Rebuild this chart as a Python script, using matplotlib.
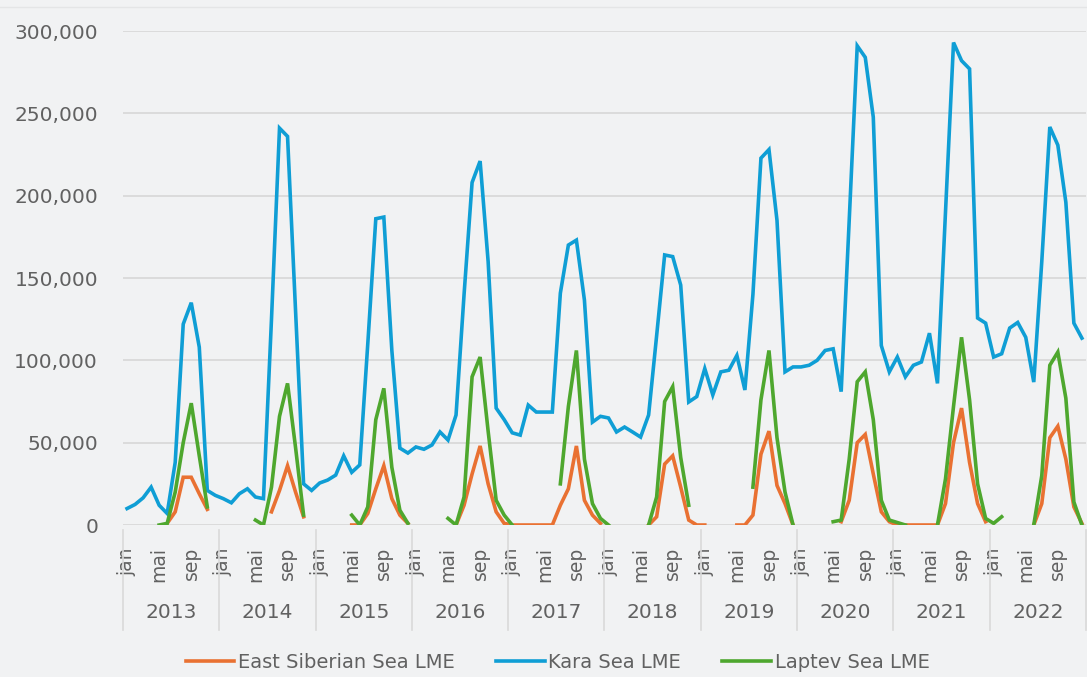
import numpy as np
import matplotlib.pyplot as plt
from matplotlib.lines import Line2D
from matplotlib.transforms import blended_transform_factory

nan = np.nan

# monthly values per LME, one row per year (jan..dec)
years = [2013, 2014, 2015, 2016, 2017, 2018, 2019, 2020, 2021, 2022]
month_ticks = [0, 4, 8]
month_names = ['jan', 'mai', 'sep']

east_siberian = [
    [nan, nan, nan, nan, nan, 1000, 8000, 29000, 29000, 19000, 9500, nan],
    [nan, nan, nan, nan, nan, nan, 8000, 21000, 36000, 20000, 5000, nan],
    [nan, nan, nan, nan, 0, 0, 7000, 22000, 36000, 16000, 6000, 1000],
    [nan, nan, nan, nan, nan, 0, 12000, 31000, 48000, 25000, 8000, 1000],
    [0, 0, 0, 0, 0, 0, 12000, 22000, 48000, 15000, 6000, 1000],
    [nan, nan, nan, nan, nan, 0, 5000, 37000, 42000, 23000, 3000, 0],
    [0, nan, nan, nan, 0, 0, 6000, 43000, 57000, 24000, 13000, 0],
    [nan, nan, nan, nan, nan, 2000, 15000, 50000, 55000, 31000, 8000, 2000],
    [0, 0, 0, 0, 0, 0, 13000, 50000, 71000, 38000, 13000, 2000],
    [nan, nan, nan, nan, nan, 0, 13000, 53000, 60000, 40000, 11000, 1000],
]

kara = [
    [10000, 12500, 16500, 23000, 12000, 7000, 38000, 122000, 135000, 108000, 21000, 18000],
    [16000, 13500, 19000, 22000, 17000, 16000, 125000, 241000, 236000, 130000, 25000, 21000],
    [25500, 27300, 30300, 42000, 32000, 36500, 110000, 186000, 187000, 106000, 46700, 43700],
    [47400, 46000, 48600, 56500, 51600, 66800, 140000, 208000, 221000, 160000, 71000, 64000],
    [56000, 54600, 72800, 68600, 68600, 68600, 140800, 170000, 173000, 136600, 62500, 66000],
    [65000, 56500, 59500, 56500, 53400, 66800, 115000, 164000, 163000, 145700, 74700, 78000],
    [95000, 79000, 93000, 94000, 103000, 82000, 140000, 222800, 228000, 185000, 93000, 96000],
    [96000, 97000, 100000, 106000, 107000, 81000, 185000, 291000, 284000, 247700, 109000, 93000],
    [102000, 90000, 97000, 99000, 116500, 86000, 190000, 293000, 282000, 277000, 125700, 122600],
    [102000, 104000, 119600, 123000, 114000, 86800, 160000, 241700, 230700, 196000, 122600, 113500],
]

laptev = [
    [nan, nan, nan, nan, 0, 1000, 20000, 50000, 74000, 42000, 11000, nan],
    [nan, nan, nan, nan, 3000, 0, 23000, 66000, 86000, 47000, 6000, nan],
    [nan, nan, nan, nan, 6000, 0, 11000, 64000, 83000, 35000, 9000, 1000],
    [nan, nan, nan, nan, 4000, 0, 17000, 90000, 102000, 57000, 15000, 6000],
    [0, nan, nan, nan, nan, nan, 25000, 72000, 106000, 40000, 13000, 4000],
    [0, nan, nan, nan, nan, 0, 17000, 75000, 84000, 41000, 12000, nan],
    [nan, nan, nan, nan, nan, nan, 23000, 76000, 106000, 53000, 20000, 0],
    [nan, nan, nan, nan, 2000, 3000, 40000, 87000, 93000, 64000, 15000, 3000],
    [1500, 0, nan, nan, nan, 0, 28000, 72000, 114000, 76000, 25000, 4000],
    [1000, 5000, nan, nan, nan, 0, 30000, 97000, 105000, 77000, 14000, 0],
]

bg = '#f1f2f3'
text_col = '#616161'
grid_col = '#d9d9d9'

plt.rcParams['font.family'] = 'DejaVu Sans'

fig = plt.figure(figsize=(10.87, 6.77), dpi=100, facecolor=bg)
ax = fig.add_axes([0.1132, 0.2245, 0.8858, 0.7297], facecolor=bg)

# faint border line along the top of the chart area
fig.add_artist(Line2D([0, 1], [0.99, 0.99], color='#e4e5e6', lw=1,
                      transform=fig.transFigure))

months = np.arange(12 * len(years))
series = [('East Siberian Sea LME', east_siberian, '#E97132'),
          ('Kara Sea LME', kara, '#0F9ED5'),
          ('Laptev Sea LME', laptev, '#4EA72E')]
for name, vals, col in series:
    ax.plot(months, np.array(vals, dtype=float).ravel(), color=col, lw=2.6,
            label=name, solid_joinstyle='miter')

ax.set_xlim(-0.5, months[-1] + 0.5)
ax.set_ylim(0, 300000)
ax.set_yticks(np.arange(0, 300001, 50000))
ax.yaxis.set_major_formatter(plt.FuncFormatter(lambda v, p: f'{int(v):,}'))
ax.grid(axis='y', color=grid_col, lw=1.3)
ax.set_axisbelow(True)
for s in ax.spines.values():
    s.set_visible(False)

# month ticks (first level of the category axis)
ticks = [12 * i + m for i in range(len(years)) for m in month_ticks]
ax.set_xticks(ticks)
ax.set_xticklabels(month_names * len(years), rotation=90, va='top', ha='center')
ax.tick_params(axis='x', length=0, pad=16, labelsize=13.5, labelcolor=text_col)
ax.tick_params(axis='y', length=0, pad=18, labelsize=14.5, labelcolor=text_col)

# year level: separators and labels
trans = blended_transform_factory(ax.transData, ax.transAxes)
for i, yr in enumerate(years + [None]):
    xb = 12 * i - 0.5
    ax.plot([xb, xb], [-0.01, -0.213], color=grid_col, lw=1.2,
            transform=trans, clip_on=False)
    if yr is not None:
        ax.text(12 * i + 5.5, -0.178, str(yr), transform=trans, ha='center',
                va='center', fontsize=14.5, color=text_col)

fig.legend(loc='center', bbox_to_anchor=(0.513, 0.021), ncol=3, frameon=False,
           fontsize=14, labelcolor=text_col, handlelength=2.5, handletextpad=0.2,
           columnspacing=2.1)

fig.savefig('out.png', dpi=100, facecolor=bg)
